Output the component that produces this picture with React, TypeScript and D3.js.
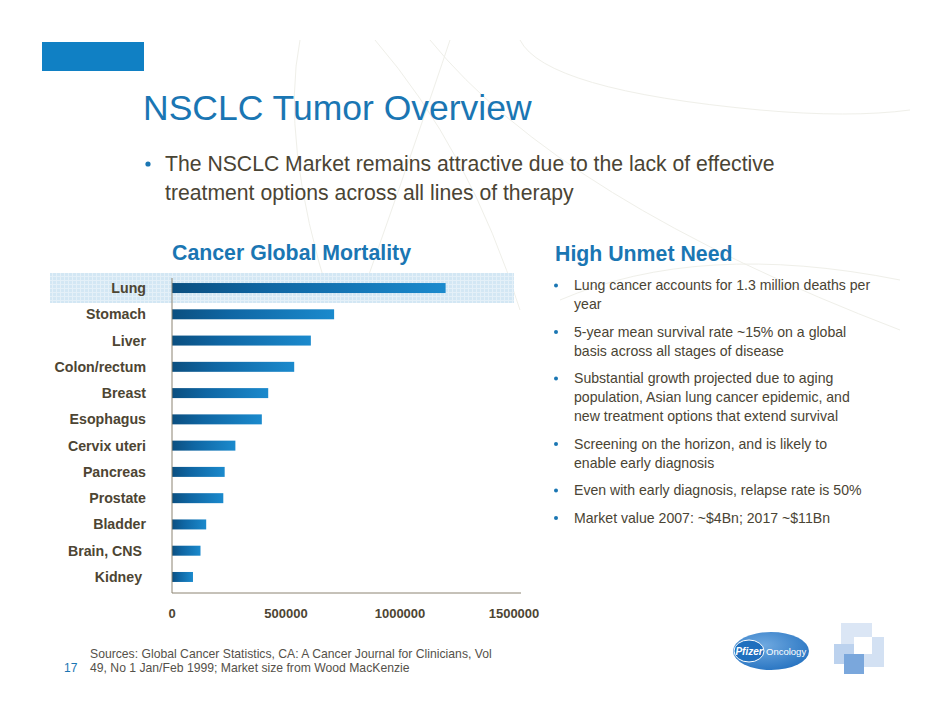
import React from "react";
import * as d3 from "d3";

const categories = ["Lung", "Stomach", "Liver", "Colon/rectum", "Breast", "Esophagus", "Cervix uteri", "Pancreas", "Prostate", "Bladder", "Brain, CNS ", "Kidney "];
const deaths = [1200000, 711000, 609000, 536000, 422000, 394000, 278000, 231000, 225000, 150000, 125000, 92000];
const xTicks = [0, 500000, 1000000, 1500000];

const titleText = "NSCLC Tumor Overview";
const introLines = ["The NSCLC Market remains attractive due to the lack of effective", "treatment options across all lines of therapy"];
const chartTitle = "Cancer Global Mortality";
const sideTitle = "High Unmet Need";
const sideBullets: string[][] = [
  ["Lung cancer accounts for 1.3 million deaths per", "year"],
  ["5-year mean survival rate ~15% on a global", "basis across all stages of disease"],
  ["Substantial growth projected due to aging", "population, Asian lung cancer epidemic, and", "new treatment options that extend survival"],
  ["Screening on the horizon, and is likely to", "enable early diagnosis"],
  ["Even with early diagnosis, relapse rate is 50%"],
  ["Market value 2007: ~$4Bn; 2017 ~$11Bn"],
];
const footnoteLines = ["Sources: Global Cancer Statistics, CA: A Cancer Journal for Clinicians, Vol", "49, No 1 Jan/Feb 1999; Market size from Wood MacKenzie"];
const pageNumber = "17";

const FONT = "'Liberation Sans', Arial, Helvetica, sans-serif";
const BLUE = "#1a76b3";
const TEXT = "#4a4434";
const LABEL = "#4d4533";

export default function App() {
  const W = 942, H = 728;
  const x = d3.scaleLinear().domain([0, 1500000]).range([172, 514]);
  const y = d3.scaleBand<string>().domain(categories).range([274.9, 590.1]).paddingInner(0.62).paddingOuter(0.31);
  const axisY = 593;

  let cursor = 290;
  const lineH = 19;
  const blocks = sideBullets.map((lines) => {
    const start = cursor;
    cursor += lines.length * lineH + 8.5;
    return { lines, start };
  });

  return (
    <svg width={W} height={H} viewBox={`0 0 ${W} ${H}`} style={{ position: "absolute", left: 0, top: 0, background: "#fff" }} fontFamily={FONT}>
      <defs>
        <linearGradient id="barGrad" x1="0" y1="0" x2="1" y2="0">
          <stop offset="0%" stopColor="#0b4f80" />
          <stop offset="35%" stopColor="#0f66a3" />
          <stop offset="100%" stopColor="#1b8acd" />
        </linearGradient>
        <pattern id="gridPat" width="4" height="4" patternUnits="userSpaceOnUse">
          <rect width="4" height="4" fill="#d3e7f4" />
          <path d="M0 0.5H4M0.5 0V4" stroke="#e4f0f8" strokeWidth="1" />
        </pattern>
        <radialGradient id="pfGrad" cx="0.4" cy="0.35" r="0.8">
          <stop offset="0%" stopColor="#6fa9e0" />
          <stop offset="100%" stopColor="#1d6cbd" />
        </radialGradient>
      </defs>

      {/* faint decorative arcs */}
      <g fill="none" stroke="#efefe9" strokeWidth="1">
        <path d="M300 40 Q280 140 330 300" />
        <path d="M375 40 Q470 150 520 310" />
        <path d="M360 300 Q420 130 450 40" />
        <path d="M430 40 Q560 200 900 330" />
        <path d="M520 40 Q545 90 760 110 Q850 118 910 110" />
        <path d="M560 300 Q700 240 900 280" />
      </g>

      <rect x={42} y={42} width={102} height={29} fill="#1080c4" />

      <text x={143} y={120} fontSize={35.5} fill={BLUE}>{titleText}</text>

      <circle cx={148} cy={164} r={2.6} fill={BLUE} />
      {introLines.map((l, i) => (
        <text key={i} x={165} y={171 + i * 29} fontSize={21.2} fill={TEXT}>{l}</text>
      ))}

      <text x={172} y={260} fontSize={21.3} fontWeight="bold" fill={BLUE}>{chartTitle}</text>

      <rect x={50} y={273} width={464} height={30} fill="url(#gridPat)" />

      {categories.map((c, i) => (
        <rect key={c} x={x(0)} y={y(c)!} width={x(deaths[i]) - x(0)} height={y.bandwidth()} fill="url(#barGrad)" />
      ))}

      <line x1={172} y1={278} x2={172} y2={axisY} stroke="#8c8472" strokeWidth={1} />
      <line x1={172} y1={axisY} x2={521} y2={axisY} stroke="#8c8472" strokeWidth={1} />

      {categories.map((c) => (
        <text key={c} x={146} y={y(c)! + y.bandwidth() / 2 + 5} fontSize={14.2} fontWeight="bold" fill={LABEL} textAnchor="end" style={{ whiteSpace: "pre" }}>{c}</text>
      ))}

      {xTicks.map((t) => (
        <text key={t} x={x(t)} y={618} fontSize={13} fontWeight="bold" fill={LABEL} textAnchor="middle">{d3.format("d")(t)}</text>
      ))}

      <text x={555} y={261} fontSize={21.3} fontWeight="bold" fill={BLUE}>{sideTitle}</text>

      {blocks.map((b, i) => (
        <g key={i}>
          <circle cx={556} cy={b.start - 4.5} r={2} fill={BLUE} />
          {b.lines.map((l, j) => (
            <text key={j} x={574} y={b.start + j * lineH} fontSize={14.1} fill={TEXT}>{l}</text>
          ))}
        </g>
      ))}

      {footnoteLines.map((l, i) => (
        <text key={i} x={90} y={658 + i * 14} fontSize={12.2} fill="#55514a">{l}</text>
      ))}
      <text x={64} y={672} fontSize={12} fill={BLUE}>{pageNumber}</text>

      <ellipse cx={771} cy={651} rx={38} ry={19} fill="url(#pfGrad)" />
      <ellipse cx={749} cy={651} rx={15} ry={11} fill="#1f6fbe" stroke="#ffffff" strokeWidth={1} />
      <text x={749} y={655} fontSize={10} fontStyle="italic" fontWeight="bold" fill="#fff" textAnchor="middle">Pfizer</text>
      <text x={766} y={655} fontSize={9.5} fill="#fff">Oncology</text>

      <rect x={841} y={623} width={31} height={22} fill="#dbe6f5" />
      <rect x={854} y={637} width={30} height={30} fill="#d3e1f3" />
      <rect x={834} y={644} width={20} height={20} fill="#bcd2ee" />
      <rect x={854} y={637} width={18} height={17} fill="#ffffff" />
      <rect x={844} y={654} width={20} height={20} fill="#7aa7dc" />
    </svg>
  );
}
